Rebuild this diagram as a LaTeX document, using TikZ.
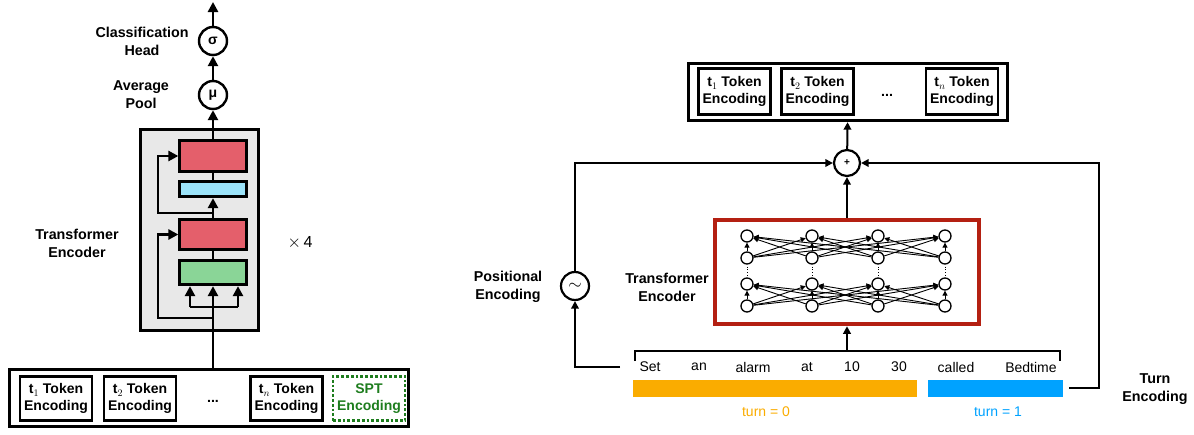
\documentclass[tikz,border=0pt]{standalone}
\usepackage{fontspec}
\setmainfont{Liberation Sans}
\usetikzlibrary{arrows.meta}
\definecolor{redblk}{RGB}{228,95,107}
\definecolor{cyanblk}{RGB}{155,227,249}
\definecolor{greenblk}{RGB}{138,213,151}
\definecolor{grayblk}{RGB}{232,232,232}
\definecolor{tred}{RGB}{180,32,18}
\definecolor{torange}{RGB}{250,172,0}
\definecolor{tblue}{RGB}{0,162,255}
\definecolor{sptgreen}{RGB}{30,125,30}
\tikzset{
  lbl/.style={font=\bfseries\fontsize{14.3}{18}\selectfont, align=center, inner sep=0},
  blk/.style={draw, line width=2.8pt, inner sep=0},
  tok/.style={draw, line width=2.8pt, minimum width=72pt, minimum height=44.5pt, align=center, inner sep=0, font=\bfseries\fontsize{14}{16.5}\selectfont},
  arr/.style={line width=2.5pt, -{Triangle[length=10pt,width=10pt]}},
  ln/.style={line width=2.5pt},
  rarr/.style={line width=2pt, -{Triangle[length=7.5pt,width=7.5pt]}},
  opc/.style={circle, draw, line width=2.4pt, minimum size=28pt, inner sep=0, fill=white},
  nn/.style={circle, draw, line width=1.3pt, minimum size=12pt, inner sep=0, fill=white},
  nne/.style={line width=0.9pt, -{Triangle[length=5pt,width=5pt]}},
  word/.style={font=\fontsize{14}{15}\selectfont, inner sep=0},
}
\begin{document}
\begin{tikzpicture}[x=1pt,y=-1pt]
\useasboundingbox (0,0) rectangle (1194,434);

% ================= LEFT =================
\node[blk, fill=grayblk, minimum width=118pt, minimum height=201pt] (gbox) at (199.5,230) {};
\node[blk, fill=redblk, minimum width=66.5pt, minimum height=31.5pt] (r1) at (213,156) {};
\node[blk, fill=cyanblk, minimum width=66.5pt, minimum height=15.5pt] (cy) at (213,189) {};
\node[blk, fill=redblk, minimum width=66.5pt, minimum height=30.5pt] (r2) at (213,234.5) {};
\node[blk, fill=greenblk, minimum width=66.5pt, minimum height=24.5pt] (gr) at (213,272.5) {};

\node[opc, font=\bfseries\fontsize{14}{14}\selectfont] (mu) at (213,95) {μ};
\node[opc, font=\bfseries\fontsize{14}{14}\selectfont] (sig) at (213,41) {σ};
\coordinate (top) at (213,2);

\node[lbl] (lclass) at (142,41) {Classification\\Head};
\node[lbl] (lavg) at (141,95) {Average\\Pool};
\node[lbl] (ltrans) at (77,243) {Transformer\\Encoder};
\node[font=\fontsize{16}{16}\selectfont, inner sep=0] (times) at (300,243) {$\times$\,4};

\node[blk, minimum width=399.5pt, minimum height=57.5pt] (bot) at (209,398) {};
\node[tok] (lt1) at (56,398.5) {t$_1$ Token\\Encoding};
\node[tok] (lt2) at (140,398.5) {t$_2$ Token\\Encoding};
\node[lbl] (ldots) at (213,401) {...};
\node[tok] (ltn) at (286.5,398.5) {t$_n$ Token\\Encoding};
\node[tok, draw=sptgreen, dotted, text=sptgreen] (spt) at (369,398.5) {SPT\\Encoding};

\coordinate (split) at (213,307);
\coordinate (sL) at (190,307);
\coordinate (sR) at (238,307);
\coordinate (res2) at (213,318);
\coordinate (res1) at (213,213);

\draw[arr] (sig) -- (top);
\draw[arr] (mu) -- (sig);
\draw[arr] (r1) -- (mu);
\draw[ln] (cy) -- (r1);
\draw[arr] (r2) -- (cy);
\draw[ln] (gr) -- (r2);
\draw[ln] (split |- bot.north) -- (split);
\draw[arr] (split) -- (gr);
\draw[ln] (sL) -- (sR);
\draw[arr] (sL) -- (sL |- gr.south);
\draw[arr] (sR) -- (sR |- gr.south);
\draw[arr] (res2) -- ++(-55,0) |- (r2.west);
\draw[arr] (res1) -- ++(-55,0) |- (r1.west);

% ================= RIGHT =================
\node[blk, minimum width=319.5pt, minimum height=57.5pt] (rtop) at (848,92) {};
\node[tok, minimum height=46.5pt] (rt1) at (734.5,91.5) {t$_1$ Token\\Encoding};
\node[tok, minimum height=46.5pt] (rt2) at (817.5,91.5) {t$_2$ Token\\Encoding};
\node[lbl] (rdots) at (887,95) {...};
\node[tok, minimum height=46.5pt] (rtn) at (962,91.5) {t$_n$ Token\\Encoding};

\node[opc, minimum size=26pt, line width=2.2pt, font=\bfseries\fontsize{10}{10}\selectfont] (plus) at (847,163) {+};
\node[draw=tred, line width=4.5pt, minimum width=264pt, minimum height=104pt, inner sep=0] (tr) at (847,272) {};
\node[opc, minimum size=28pt, line width=2.2pt] (sine) at (575,286) {\fontsize{18}{18}\selectfont$\sim$};

\node[lbl] (lpos) at (508,287) {Positional\\Encoding};
\node[lbl] (ltr2) at (667,287) {Transformer\\Encoder};
\node[lbl] (lturn) at (1155,389) {Turn\\Encoding};

% neural net
\foreach \i/\x in {1/747,2/812,3/878,4/945} {
  \node[nn] (ua\i) at (\x,236) {};
  \node[nn] (la\i) at (\x,258) {};
  \node[nn] (ub\i) at (\x,284) {};
  \node[nn] (lb\i) at (\x,306) {};
}
\foreach \i in {1,...,4} {
  \foreach \j in {1,...,4} {
    \draw[nne] (la\j) -- (ua\i);
    \draw[nne] (lb\j) -- (ub\i);
  }
  \draw[line width=0.8pt, dotted, shorten <=2pt, shorten >=2pt] (la\i) -- (ub\i);
}

% text line
\coordinate (brk) at (847,351);
\draw[line width=1.5pt] (635,361) -- (635,351) -- (1060,351) -- (1060,361);
\node[word] (w1) at (650,367) {Set};
\node[word] (w2) at (699,367) {an};
\node[word] (w3) at (753,367) {alarm};
\node[word] (w4) at (807,367) {at};
\node[word] (w5) at (852,367) {10};
\node[word] (w6) at (899,367) {30};
\node[word] (w7) at (956,367) {called};
\node[word] (w8) at (1031,367) {Bedtime};
\fill[torange] (633,380) rectangle (917,397);
\fill[tblue] (928,380) rectangle (1063,397);
\node[word, text=torange] (turn0) at (766,412) {turn = 0};
\node[word, text=tblue] (turn1) at (998,412) {turn = 1};

\coordinate (pin) at (620,367);
\coordinate (tin) at (1069,388);

\draw[rarr] (brk) -- (tr.south);
\draw[rarr] (tr) -- (plus);
\draw[rarr] (plus) -- (rtop);
\draw[rarr] (pin) -| (sine.south);
\draw[rarr] (sine.north) |- (plus.west);
\draw[rarr] (tin) -- ++(30,0) |- (plus.east);
\end{tikzpicture}
\end{document}
